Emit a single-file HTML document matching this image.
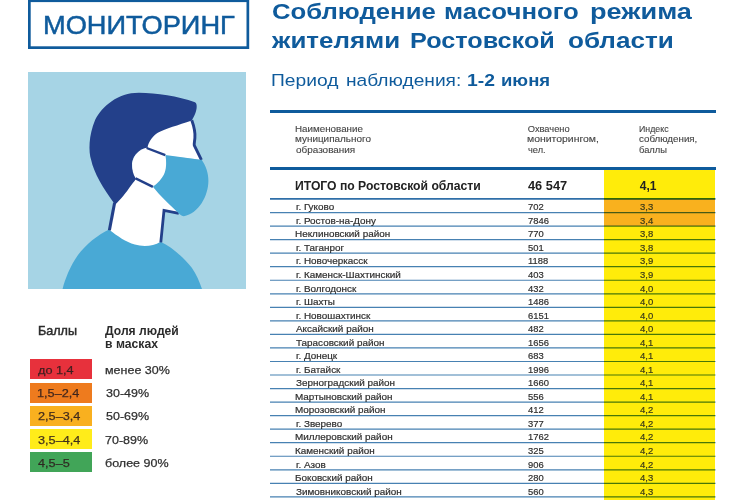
<!DOCTYPE html>
<html lang="ru">
<head>
<meta charset="utf-8">
<title>Мониторинг: соблюдение масочного режима жителями Ростовской области</title>
<style>
html,body{margin:0;padding:0;background:#fff;}
body{width:750px;height:500px;overflow:hidden;position:relative;font-family:"Liberation Sans","DejaVu Sans",sans-serif;color:#2b2b2b;}
h1,h2,p,ul,li,figure,header,section,aside,main{margin:0;padding:0;list-style:none;font-size:inherit;font-weight:inherit;}
.abs{position:absolute;white-space:nowrap;transform-origin:0 50%;}
.blue{color:#0f5b9c;}
.badge-box{left:0;top:0;}
.badge-text{-webkit-text-stroke:.5px #0f5b9c;}
.pic{position:absolute;left:28.2px;top:72.2px;width:217.8px;height:217.3px;background:#a6d4e5;overflow:hidden;}
.pic svg{display:block;}
.lh{color:#2b2b2b;}
.lh.m{-webkit-text-stroke:.45px #2b2b2b;}
.sw{position:absolute;left:29.6px;width:62px;height:20px;}
.swt{color:rgba(45,28,28,.88);-webkit-text-stroke:.25px rgba(45,28,28,.88);}
.lgt{color:#2f2f2f;-webkit-text-stroke:.25px #2f2f2f;}
.rule{position:absolute;left:270px;width:445.5px;height:3px;background:#0f5b9c;}
.th{color:#454545;-webkit-text-stroke:.12px #454545;}
.ycol,.ocol{position:absolute;left:604.3px;width:111.2px;}
.ycol{background:#ffec0a;}
.ocol{background:#f9b11e;}
.tot{color:#222;}
.c{color:#2e2e2e;-webkit-text-stroke:.2px #2e2e2e;}
.s{color:#3a3a1a;-webkit-text-stroke:.2px #3a3a1a;}
.grid{left:0;top:0;mix-blend-mode:multiply;}
</style>
</head>
<body>
<aside class="left">
<header class="badge">
<svg class="abs badge-box" width="260" height="52" viewBox="0 0 260 52"><rect x="29.35" y="0.75" width="218.5" height="46.9" fill="none" stroke="#0f5b9c" stroke-width="2.7"/></svg>
<span class="abs blue badge-text" style="left:43.27px;top:11px;font-size:25.8px;line-height:28px;transform:scaleX(1.0553);">МОНИТОРИНГ</span>
</header>
<figure class="pic">
<svg width="217.8" height="217.3" viewBox="28.2 72.2 217.8 217.3">
<path d="M146,140 L160,122 L190,116 L192,120.4 L195.2,132 L194.5,145.6 L201.6,160 L166,156 L154,187 L178,212 L164.5,210.5 L161,246 L151,251 L132,249 L109.4,231 L115,204 L137,177 Z" fill="#fff"/>
<path d="M195.2,102.4 C178,96.4 157,93.2 139,93 C118,93 102.5,106.5 95.4,120 C88.6,136 88.8,152 91.3,160 C94,173 103,188 115.2,204.8 C120,201 127,192 131,186 C134,182 136,180 137,177.5 C133,172 131,166 133,160 C136,152 142,150 147.6,148.2 C149,141 153,136.5 158,133 C166,128.5 178,125.5 192,120.6 C195.4,115 197.4,109.5 196.8,105.2 C196.6,103.6 196,102.8 195.2,102.4 Z" fill="#23408a"/>
<path d="M146.6,148 C140,149.5 133.5,155 132.4,163.5 C132,170 133.5,175 135.8,178.5 L153.1,187 L168,178 L166,155.2 Z" fill="#fff"/>
<path d="M109.2,229.6 C118,236.5 126,242 135,244.8 C143,247 153,246.8 160.8,242 C172,247 184,258 192,268 C197,275 200,283 202.5,290 L62.6,290 C65,280 70,267 78,255.5 C86,244.5 98,235 109.2,229.6 Z" fill="#49a9d5"/>
<path d="M192,120.4 C194,126 195.6,132 195.1,138 C194.9,141 194.2,143.5 194.5,145.6 L201.6,160" fill="none" stroke="#23408a" stroke-width="2.9" stroke-linejoin="round"/>
<path d="M114.8,203 L109.6,230.4" fill="none" stroke="#23408a" stroke-width="3.1"/>
<path d="M179,213.6 L164.2,210.6 L161,242.6" fill="none" stroke="#23408a" stroke-width="2.8" stroke-linejoin="miter"/>
<path d="M146.8,148.2 L165.5,155.3" fill="none" stroke="#23408a" stroke-width="2.4"/>
<path d="M135.8,178.6 L153.1,187" fill="none" stroke="#23408a" stroke-width="2.4"/>
<path d="M165.5,155.2 C178,157 190,158.6 202,160.2 C206,166 208.6,173 208.6,181.3 C208.5,196 199,214 184,216.4 C181.5,216.4 179.5,214.5 177.6,212.3 C170,205 160,196 153.1,187 C158,183.5 162,179 164,175 C166.5,170 167,162 165.5,155.2 Z" fill="#49a9d5"/>
</svg>
</figure>
<section class="legend">
<div class="legend-head">
<span class="abs lh m" style="left:38.07px;top:324px;font-size:11.9px;line-height:14px;transform:scaleX(1.0580);">Баллы</span>
<span class="abs lh" style="left:104.89px;top:324px;font-size:11.9px;line-height:14px;transform:scaleX(1.0190);font-weight:700;">Доля людей</span>
<span class="abs lh" style="left:104.55px;top:337px;font-size:11.9px;line-height:14px;transform:scaleX(1.0248);font-weight:700;">в масках</span>
</div>
<ul>
<li><div class="sw" style="top:359.3px;background:#e7313c;"></div><span class="abs swt" style="left:38.28px;top:363px;font-size:11.8px;line-height:14px;transform:scaleX(1.0750);">до 1,4</span> <span class="abs lgt" style="left:105.13px;top:363px;font-size:11.8px;line-height:14px;transform:scaleX(1.0600);">менее 30%</span></li>
<li><div class="sw" style="top:382.5px;background:#ee7b1e;"></div><span class="abs swt" style="left:37.43px;top:386px;font-size:11.8px;line-height:14px;transform:scaleX(1.0750);">1,5–2,4</span> <span class="abs lgt" style="left:105.52px;top:386px;font-size:11.8px;line-height:14px;transform:scaleX(1.0600);">30-49%</span></li>
<li><div class="sw" style="top:405.7px;background:#f9b01f;"></div><span class="abs swt" style="left:37.76px;top:409px;font-size:11.8px;line-height:14px;transform:scaleX(1.0750);">2,5–3,4</span> <span class="abs lgt" style="left:105.50px;top:409px;font-size:11.8px;line-height:14px;transform:scaleX(1.0600);">50-69%</span></li>
<li><div class="sw" style="top:428.9px;background:#ffec1a;"></div><span class="abs swt" style="left:37.92px;top:433px;font-size:11.8px;line-height:14px;transform:scaleX(1.0750);">3,5–4,4</span> <span class="abs lgt" style="left:105.36px;top:433px;font-size:11.8px;line-height:14px;transform:scaleX(1.0600);">70-89%</span></li>
<li><div class="sw" style="top:452.1px;background:#41a558;"></div><span class="abs swt" style="left:38.11px;top:456px;font-size:11.8px;line-height:14px;transform:scaleX(1.0750);">4,5–5</span> <span class="abs lgt" style="left:105.27px;top:456px;font-size:11.8px;line-height:14px;transform:scaleX(1.0600);">более 90%</span></li>
</ul>
</section>
</aside>
<main class="right">
<h1>
<span class="abs blue" style="left:271.54px;top:-1px;font-size:21.7px;line-height:25px;transform:scaleX(1.1858);font-weight:700;">Соблюдение</span> <span class="abs blue" style="left:444.10px;top:-1px;font-size:21.7px;line-height:25px;transform:scaleX(1.1875);font-weight:700;">масочного</span> <span class="abs blue" style="left:590.01px;top:-1px;font-size:21.7px;line-height:25px;transform:scaleX(1.2500);font-weight:700;">режима</span>
<span class="abs blue" style="left:272.12px;top:28px;font-size:21.7px;line-height:25px;transform:scaleX(1.1951);font-weight:700;">жителями</span> <span class="abs blue" style="left:409.91px;top:28px;font-size:21.7px;line-height:25px;transform:scaleX(1.1627);font-weight:700;">Ростовской</span> <span class="abs blue" style="left:567.58px;top:28px;font-size:21.7px;line-height:25px;transform:scaleX(1.2019);font-weight:700;">области</span>
</h1>
<p class="period">
<span class="abs blue" style="left:271.04px;top:71px;font-size:16.7px;line-height:19px;transform:scaleX(1.1518);">Период</span> <span class="abs blue" style="left:346.07px;top:71px;font-size:16.7px;line-height:19px;transform:scaleX(1.1483);">наблюдения:</span> <span class="abs blue" style="left:466.78px;top:71px;font-size:16.7px;line-height:19px;transform:scaleX(1.1599);font-weight:700;">1-2</span> <span class="abs blue" style="left:501.12px;top:71px;font-size:16.7px;line-height:19px;transform:scaleX(1.1086);font-weight:700;">июня</span>
</p>
<section class="table">
<div class="rule" style="top:110px;"></div>
<div class="thead">
<div class="thcell"><span class="abs th" style="left:295.20px;top:124px;font-size:9.3px;line-height:10px;transform:scaleX(1.0537);">Наименование</span> <span class="abs th" style="left:295.31px;top:134px;font-size:9.3px;line-height:10px;transform:scaleX(1.0682);">муниципального</span> <span class="abs th" style="left:295.58px;top:145px;font-size:9.3px;line-height:10px;transform:scaleX(1.0690);">образования</span></div>
<div class="thcell"><span class="abs th" style="left:527.76px;top:124px;font-size:9.3px;line-height:10px;">Охвачено</span> <span class="abs th" style="left:527.48px;top:134px;font-size:9.3px;line-height:10px;transform:scaleX(1.1225);">мониторингом,</span> <span class="abs th" style="left:527.65px;top:145px;font-size:9.3px;line-height:10px;transform:scaleX(0.9925);">чел.</span></div>
<div class="thcell"><span class="abs th" style="left:638.58px;top:124px;font-size:9.3px;line-height:10px;transform:scaleX(0.9459);">Индекс</span> <span class="abs th" style="left:638.89px;top:134px;font-size:9.3px;line-height:10px;transform:scaleX(1.0498);">соблюдения,</span> <span class="abs th" style="left:638.75px;top:145px;font-size:9.3px;line-height:10px;transform:scaleX(1.0057);">баллы</span></div>
</div>
<div class="rule" style="top:167px;"></div>
<div class="ycol" style="top:170px;height:330px;"></div>
<div class="ocol" style="top:199.00px;height:27.08px;"></div>
<div class="tr total"><span class="abs tot" style="left:294.69px;top:179px;font-size:12px;line-height:14px;transform:scaleX(1.0146);font-weight:700;">ИТОГО по Ростовской области</span> <span class="abs tot" style="left:528.11px;top:179px;font-size:12px;line-height:14px;transform:scaleX(1.0668);font-weight:700;">46 547</span> <span class="abs tot" style="left:639.82px;top:179px;font-size:12px;line-height:14px;font-weight:700;">4,1</span></div>
<div class="tr"><span class="abs c" style="left:295.51px;top:201px;font-size:9.8px;line-height:11px;transform:scaleX(1.0107);">г. Гуково</span> <span class="abs c" style="left:527.82px;top:201px;font-size:9.8px;line-height:11px;transform:scaleX(0.9600);">702</span> <span class="abs s" style="left:639.64px;top:201px;font-size:9.8px;line-height:11px;transform:scaleX(0.9700);">3,3</span></div>
<div class="tr"><span class="abs c" style="left:295.51px;top:215px;font-size:9.8px;line-height:11px;transform:scaleX(1.0107);">г. Ростов-на-Дону</span> <span class="abs c" style="left:527.82px;top:215px;font-size:9.8px;line-height:11px;transform:scaleX(0.9600);">7846</span> <span class="abs s" style="left:639.64px;top:215px;font-size:9.8px;line-height:11px;transform:scaleX(0.9700);">3,4</span></div>
<div class="tr"><span class="abs c" style="left:295.39px;top:228px;font-size:9.8px;line-height:11px;transform:scaleX(1.0107);">Неклиновский район</span> <span class="abs c" style="left:527.82px;top:228px;font-size:9.8px;line-height:11px;transform:scaleX(0.9600);">770</span> <span class="abs s" style="left:639.64px;top:228px;font-size:9.8px;line-height:11px;transform:scaleX(0.9700);">3,8</span></div>
<div class="tr"><span class="abs c" style="left:295.51px;top:242px;font-size:9.8px;line-height:11px;transform:scaleX(1.0107);">г. Таганрог</span> <span class="abs c" style="left:527.92px;top:242px;font-size:9.8px;line-height:11px;transform:scaleX(0.9600);">501</span> <span class="abs s" style="left:639.64px;top:242px;font-size:9.8px;line-height:11px;transform:scaleX(0.9700);">3,8</span></div>
<div class="tr"><span class="abs c" style="left:295.51px;top:255px;font-size:9.8px;line-height:11px;transform:scaleX(1.0107);">г. Новочеркасск</span> <span class="abs c" style="left:527.58px;top:255px;font-size:9.8px;line-height:11px;transform:scaleX(0.9600);">1188</span> <span class="abs s" style="left:639.64px;top:255px;font-size:9.8px;line-height:11px;transform:scaleX(0.9700);">3,9</span></div>
<div class="tr"><span class="abs c" style="left:295.51px;top:269px;font-size:9.8px;line-height:11px;transform:scaleX(1.0107);">г. Каменск-Шахтинский</span> <span class="abs c" style="left:528.08px;top:269px;font-size:9.8px;line-height:11px;transform:scaleX(0.9600);">403</span> <span class="abs s" style="left:639.64px;top:269px;font-size:9.8px;line-height:11px;transform:scaleX(0.9700);">3,9</span></div>
<div class="tr"><span class="abs c" style="left:295.51px;top:283px;font-size:9.8px;line-height:11px;transform:scaleX(1.0107);">г. Волгодонск</span> <span class="abs c" style="left:528.08px;top:283px;font-size:9.8px;line-height:11px;transform:scaleX(0.9600);">432</span> <span class="abs s" style="left:639.78px;top:283px;font-size:9.8px;line-height:11px;transform:scaleX(0.9700);">4,0</span></div>
<div class="tr"><span class="abs c" style="left:295.51px;top:296px;font-size:9.8px;line-height:11px;transform:scaleX(1.0107);">г. Шахты</span> <span class="abs c" style="left:527.58px;top:296px;font-size:9.8px;line-height:11px;transform:scaleX(0.9600);">1486</span> <span class="abs s" style="left:639.78px;top:296px;font-size:9.8px;line-height:11px;transform:scaleX(0.9700);">4,0</span></div>
<div class="tr"><span class="abs c" style="left:295.51px;top:310px;font-size:9.8px;line-height:11px;transform:scaleX(1.0107);">г. Новошахтинск</span> <span class="abs c" style="left:527.82px;top:310px;font-size:9.8px;line-height:11px;transform:scaleX(0.9600);">6151</span> <span class="abs s" style="left:639.78px;top:310px;font-size:9.8px;line-height:11px;transform:scaleX(0.9700);">4,0</span></div>
<div class="tr"><span class="abs c" style="left:296.18px;top:323px;font-size:9.8px;line-height:11px;transform:scaleX(1.0107);">Аксайский район</span> <span class="abs c" style="left:528.08px;top:323px;font-size:9.8px;line-height:11px;transform:scaleX(0.9600);">482</span> <span class="abs s" style="left:639.78px;top:323px;font-size:9.8px;line-height:11px;transform:scaleX(0.9700);">4,0</span></div>
<div class="tr"><span class="abs c" style="left:295.98px;top:337px;font-size:9.8px;line-height:11px;transform:scaleX(1.0107);">Тарасовский район</span> <span class="abs c" style="left:527.58px;top:337px;font-size:9.8px;line-height:11px;transform:scaleX(0.9600);">1656</span> <span class="abs s" style="left:639.78px;top:337px;font-size:9.8px;line-height:11px;transform:scaleX(0.9700);">4,1</span></div>
<div class="tr"><span class="abs c" style="left:295.51px;top:350px;font-size:9.8px;line-height:11px;transform:scaleX(1.0107);">г. Донецк</span> <span class="abs c" style="left:527.82px;top:350px;font-size:9.8px;line-height:11px;transform:scaleX(0.9600);">683</span> <span class="abs s" style="left:639.78px;top:350px;font-size:9.8px;line-height:11px;transform:scaleX(0.9700);">4,1</span></div>
<div class="tr"><span class="abs c" style="left:295.51px;top:364px;font-size:9.8px;line-height:11px;transform:scaleX(1.0107);">г. Батайск</span> <span class="abs c" style="left:527.58px;top:364px;font-size:9.8px;line-height:11px;transform:scaleX(0.9600);">1996</span> <span class="abs s" style="left:639.78px;top:364px;font-size:9.8px;line-height:11px;transform:scaleX(0.9700);">4,1</span></div>
<div class="tr"><span class="abs c" style="left:295.88px;top:377px;font-size:9.8px;line-height:11px;transform:scaleX(1.0107);">Зерноградский район</span> <span class="abs c" style="left:527.58px;top:377px;font-size:9.8px;line-height:11px;transform:scaleX(0.9600);">1660</span> <span class="abs s" style="left:639.78px;top:377px;font-size:9.8px;line-height:11px;transform:scaleX(0.9700);">4,1</span></div>
<div class="tr"><span class="abs c" style="left:295.39px;top:391px;font-size:9.8px;line-height:11px;transform:scaleX(1.0107);">Мартыновский район</span> <span class="abs c" style="left:527.92px;top:391px;font-size:9.8px;line-height:11px;transform:scaleX(0.9600);">556</span> <span class="abs s" style="left:639.78px;top:391px;font-size:9.8px;line-height:11px;transform:scaleX(0.9700);">4,1</span></div>
<div class="tr"><span class="abs c" style="left:295.39px;top:404px;font-size:9.8px;line-height:11px;transform:scaleX(1.0107);">Морозовский район</span> <span class="abs c" style="left:528.08px;top:404px;font-size:9.8px;line-height:11px;transform:scaleX(0.9600);">412</span> <span class="abs s" style="left:639.78px;top:404px;font-size:9.8px;line-height:11px;transform:scaleX(0.9700);">4,2</span></div>
<div class="tr"><span class="abs c" style="left:295.51px;top:418px;font-size:9.8px;line-height:11px;transform:scaleX(1.0107);">г. Зверево</span> <span class="abs c" style="left:527.94px;top:418px;font-size:9.8px;line-height:11px;transform:scaleX(0.9600);">377</span> <span class="abs s" style="left:639.78px;top:418px;font-size:9.8px;line-height:11px;transform:scaleX(0.9700);">4,2</span></div>
<div class="tr"><span class="abs c" style="left:295.39px;top:431px;font-size:9.8px;line-height:11px;transform:scaleX(1.0107);">Миллеровский район</span> <span class="abs c" style="left:527.58px;top:431px;font-size:9.8px;line-height:11px;transform:scaleX(0.9600);">1762</span> <span class="abs s" style="left:639.78px;top:431px;font-size:9.8px;line-height:11px;transform:scaleX(0.9700);">4,2</span></div>
<div class="tr"><span class="abs c" style="left:295.39px;top:445px;font-size:9.8px;line-height:11px;transform:scaleX(1.0107);">Каменский район</span> <span class="abs c" style="left:527.94px;top:445px;font-size:9.8px;line-height:11px;transform:scaleX(0.9600);">325</span> <span class="abs s" style="left:639.78px;top:445px;font-size:9.8px;line-height:11px;transform:scaleX(0.9700);">4,2</span></div>
<div class="tr"><span class="abs c" style="left:295.51px;top:459px;font-size:9.8px;line-height:11px;transform:scaleX(1.0107);">г. Азов</span> <span class="abs c" style="left:527.86px;top:459px;font-size:9.8px;line-height:11px;transform:scaleX(0.9600);">906</span> <span class="abs s" style="left:639.78px;top:459px;font-size:9.8px;line-height:11px;transform:scaleX(0.9700);">4,2</span></div>
<div class="tr"><span class="abs c" style="left:295.39px;top:472px;font-size:9.8px;line-height:11px;transform:scaleX(1.0107);">Боковский район</span> <span class="abs c" style="left:527.83px;top:472px;font-size:9.8px;line-height:11px;transform:scaleX(0.9600);">280</span> <span class="abs s" style="left:639.78px;top:472px;font-size:9.8px;line-height:11px;transform:scaleX(0.9700);">4,3</span></div>
<div class="tr"><span class="abs c" style="left:295.88px;top:486px;font-size:9.8px;line-height:11px;transform:scaleX(1.0107);">Зимовниковский район</span> <span class="abs c" style="left:527.92px;top:486px;font-size:9.8px;line-height:11px;transform:scaleX(0.9600);">560</span> <span class="abs s" style="left:639.78px;top:486px;font-size:9.8px;line-height:11px;transform:scaleX(0.9700);">4,3</span></div>
<svg class="abs grid" width="750" height="500" viewBox="0 0 750 500"><g stroke="#4781b2" stroke-width="1.2"><line x1="270" x2="715.5" y1="212.54" y2="212.54"/><line x1="270" x2="715.5" y1="226.08" y2="226.08"/><line x1="270" x2="715.5" y1="239.62" y2="239.62"/><line x1="270" x2="715.5" y1="253.16" y2="253.16"/><line x1="270" x2="715.5" y1="266.70" y2="266.70"/><line x1="270" x2="715.5" y1="280.24" y2="280.24"/><line x1="270" x2="715.5" y1="293.78" y2="293.78"/><line x1="270" x2="715.5" y1="307.32" y2="307.32"/><line x1="270" x2="715.5" y1="320.86" y2="320.86"/><line x1="270" x2="715.5" y1="334.40" y2="334.40"/><line x1="270" x2="715.5" y1="347.94" y2="347.94"/><line x1="270" x2="715.5" y1="361.48" y2="361.48"/><line x1="270" x2="715.5" y1="375.02" y2="375.02"/><line x1="270" x2="715.5" y1="388.56" y2="388.56"/><line x1="270" x2="715.5" y1="402.10" y2="402.10"/><line x1="270" x2="715.5" y1="415.64" y2="415.64"/><line x1="270" x2="715.5" y1="429.18" y2="429.18"/><line x1="270" x2="715.5" y1="442.72" y2="442.72"/><line x1="270" x2="715.5" y1="456.26" y2="456.26"/><line x1="270" x2="715.5" y1="469.80" y2="469.80"/><line x1="270" x2="715.5" y1="483.34" y2="483.34"/><line x1="270" x2="715.5" y1="496.88" y2="496.88"/><line x1="270" x2="715.5" y1="198.80" y2="198.80" stroke="#2f6fa8" stroke-width="1.7"/></g></svg>
</section>
</main>
</body>
</html>
